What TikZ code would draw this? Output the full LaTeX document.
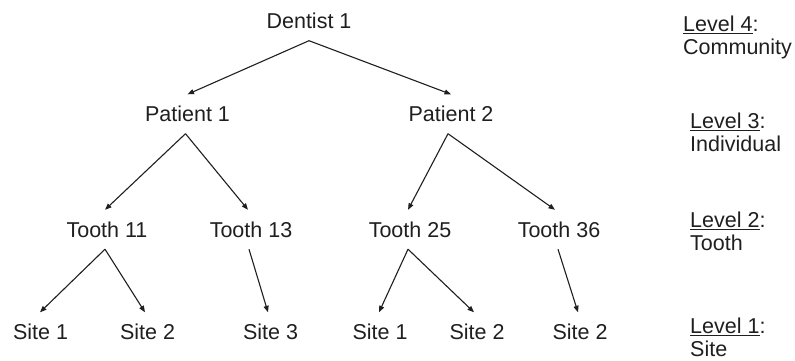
\documentclass[tikz,border=0pt]{standalone}
\usepackage{fontspec}
\setmainfont{Liberation Sans}
\usetikzlibrary{arrows.meta}
\newcommand\lvlul[1]{\setbox0\hbox{#1}\rlap{\rule[-3pt]{\wd0}{1.4pt}}\box0}
\tikzset{
  tn/.style={inner sep=0pt, minimum height=39pt, text=black!88, font=\fontsize{21.5}{24}\selectfont},
  lv/.style={inner sep=0pt, anchor=base west, text=black!88, font=\fontsize{21.5}{24}\selectfont},
  con/.style={line width=1.1pt, draw=black!88, -{Triangle[length=6.5pt,width=5pt]}}
}
\begin{document}
\begin{tikzpicture}[x=1pt,y=-1pt]
\useasboundingbox (0,0) rectangle (795,361);
% tree nodes
\node[tn] (d1) at (309,21) {Dentist 1};
\node[tn] (p1) at (187.5,114) {Patient 1};
\node[tn] (p2) at (451,114) {Patient 2};
\node[tn] (t11) at (107,229.5) {Tooth 11};
\node[tn] (t13) at (251,229.5) {Tooth 13};
\node[tn] (t25) at (410,229.5) {Tooth 25};
\node[tn] (t36) at (559,229.5) {Tooth 36};
\node[tn] (s1a) at (40.5,332) {Site 1};
\node[tn] (s2a) at (147.5,332) {Site 2};
\node[tn] (s3) at (270.5,332) {Site 3};
\node[tn] (s1b) at (380,332) {Site 1};
\node[tn] (s2b) at (477,332) {Site 2};
\node[tn] (s2c) at (580,332) {Site 2};
% connectors
\draw[con] (d1.south) -- (p1.north);
\draw[con] (d1.south) -- (p2.north);
\draw[con] ([xshift=-2pt]p1.south) -- ([xshift=-2pt]t11.north);
\draw[con] ([xshift=-2pt]p1.south) -- ([xshift=-3pt]t13.north);
\draw[con] ([xshift=-3pt]p2.south) -- ([xshift=-2pt]t25.north);
\draw[con] ([xshift=-3pt]p2.south) -- ([xshift=-4pt]t36.north);
\draw[con] ([xshift=-2pt]t11.south) -- ([xshift=-0.5pt]s1a.north);
\draw[con] ([xshift=-2pt]t11.south) -- ([xshift=-2.5pt]s2a.north);
\draw[con] ([xshift=-2pt]t13.south) -- ([xshift=-2.5pt]s3.north);
\draw[con] ([xshift=-2pt]t25.south) -- ([xshift=-1pt]s1b.north);
\draw[con] ([xshift=-2pt]t25.south) -- ([xshift=-3pt]s2b.north);
\draw[con] ([xshift=-1pt]t36.south) -- ([xshift=-2pt]s2c.north);
% level labels
\node[lv] (l4) at (683,31.5) {\lvlul{Level 4}:};
\node[lv] (l4t) at (683,55) {Community};
\node[lv] (l3) at (690,128) {\lvlul{Level 3}:};
\node[lv] (l3t) at (690,151.5) {Individual};
\node[lv] (l2) at (690,227) {\lvlul{Level 2}:};
\node[lv] (l2t) at (690,250.5) {Tooth};
\node[lv] (l1) at (690,333) {\lvlul{Level 1}:};
\node[lv] (l1t) at (690,356.5) {Site};
\end{tikzpicture}
\end{document}
